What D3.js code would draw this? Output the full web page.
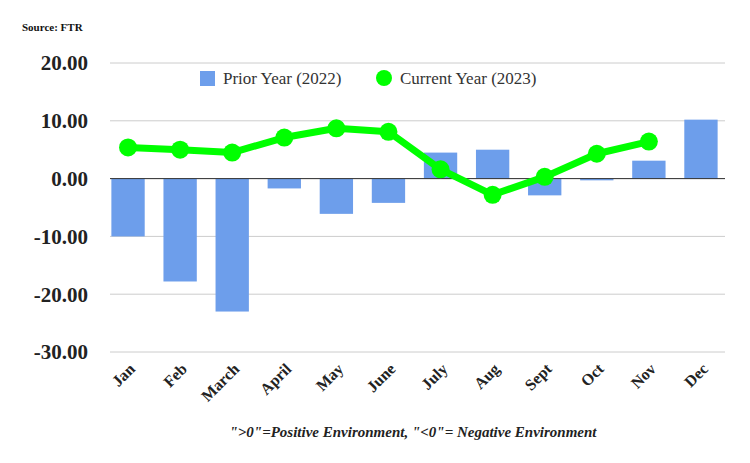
<!DOCTYPE html>
<html>
<head>
<meta charset="utf-8">
<script src="https://cdn.jsdelivr.net/npm/d3@7"></script>
<style>
  body { margin: 0; background: #fff; }
  text { font-family: "Liberation Serif", "Times New Roman", serif; }
</style>
</head>
<body>
<svg id="chart"></svg>
<script>
// 月ラベル
const months = ["Jan", "Feb", "March", "April", "May", "June", "July", "Aug", "Sept", "Oct", "Nov", "Dec"];
// 前年 (2022) 棒グラフ
const prior2022 = [-10.0, -17.8, -23.0, -1.7, -6.1, -4.2, 4.5, 5.0, -2.9, -0.3, 3.1, 10.2];
// 今年 (2023) 折れ線（12月はデータなし）
const current2023 = [5.4, 5.0, 4.5, 7.1, 8.7, 8.1, 1.6, -2.8, 0.3, 4.3, 6.4];
const yTicks = [20, 10, 0, -10, -20, -30];

const width = 750, height = 463;
const margin = { top: 63, right: 25, bottom: 111, left: 110 };

const svg = d3.select("#chart").attr("width", width).attr("height", height);

const x = d3.scaleBand().domain(months)
    .range([102, 727]).paddingInner(0.36).paddingOuter(0.18);
const y = d3.scaleLinear().domain([-30, 20]).range([height - margin.bottom, margin.top]);

// グリッド線
svg.append("g").selectAll("line").data(yTicks).enter().append("line")
    .attr("x1", margin.left).attr("x2", width - margin.right)
    .attr("y1", d => y(d)).attr("y2", d => y(d))
    .style("stroke", "#ccc").style("stroke-width", 1);

// Y軸ラベル
svg.append("g").selectAll("text").data(yTicks).enter().append("text")
    .attr("x", 88).attr("y", d => y(d)).attr("dy", "0.35em")
    .attr("text-anchor", "end").style("font-size", "21px").style("font-weight", "bold")
    .style("fill", "#222").text(d => d.toFixed(2));

// 棒
svg.append("g").selectAll("rect").data(prior2022).enter().append("rect")
    .attr("x", (d, i) => x(months[i])).attr("width", x.bandwidth())
    .attr("y", d => y(Math.max(0, d)))
    .attr("height", d => Math.abs(y(d) - y(0)))
    .style("fill", "#6d9eeb");

// ゼロ線
svg.append("line").attr("x1", margin.left).attr("x2", width - margin.right)
    .attr("y1", y(0)).attr("y2", y(0)).style("stroke", "#333").style("stroke-width", 1);

// 折れ線
const cx = i => x(months[i]) + x.bandwidth() / 2;
svg.append("path").datum(current2023)
    .attr("d", d3.line().x((d, i) => cx(i)).y(d => y(d)))
    .style("fill", "none").style("stroke", "#00ff00").style("stroke-width", 7)
    .style("stroke-linejoin", "round");
svg.append("g").selectAll("circle").data(current2023).enter().append("circle")
    .attr("cx", (d, i) => cx(i)).attr("cy", d => y(d)).attr("r", 9)
    .style("fill", "#00ff00");

// X軸ラベル（回転）
svg.append("g").selectAll("text").data(months).enter().append("text")
    .attr("transform", d => `translate(${x(d) + x.bandwidth() / 2 + 8},${y(-30) + 18}) rotate(-45)`)
    .attr("text-anchor", "end").style("font-size", "16px").style("font-weight", "bold")
    .style("fill", "#222").text(d => d);

// 凡例
const legend = svg.append("g");
legend.append("rect").attr("x", 200).attr("y", 71).attr("width", 15).attr("height", 15).style("fill", "#6d9eeb");
legend.append("text").attr("x", 223).attr("y", 84).style("font-size", "17px").style("fill", "#333").text("Prior Year (2022)");
legend.append("circle").attr("cx", 384).attr("cy", 78).attr("r", 8).style("fill", "#00ff00");
legend.append("text").attr("x", 400).attr("y", 84).style("font-size", "17px").style("fill", "#333").text("Current Year (2023)");

// 出典・注記
svg.append("text").attr("x", 22).attr("y", 31).style("font-size", "11px").style("font-weight", "bold")
    .style("fill", "#111").text("Source: FTR");
svg.append("text").attr("x", 413).attr("y", 437).attr("text-anchor", "middle")
    .style("font-size", "15px").style("font-weight", "bold").style("font-style", "italic")
    .style("fill", "#222").text("\">0\"=Positive Environment, \"<0\"= Negative Environment");
</script>
</body>
</html>
